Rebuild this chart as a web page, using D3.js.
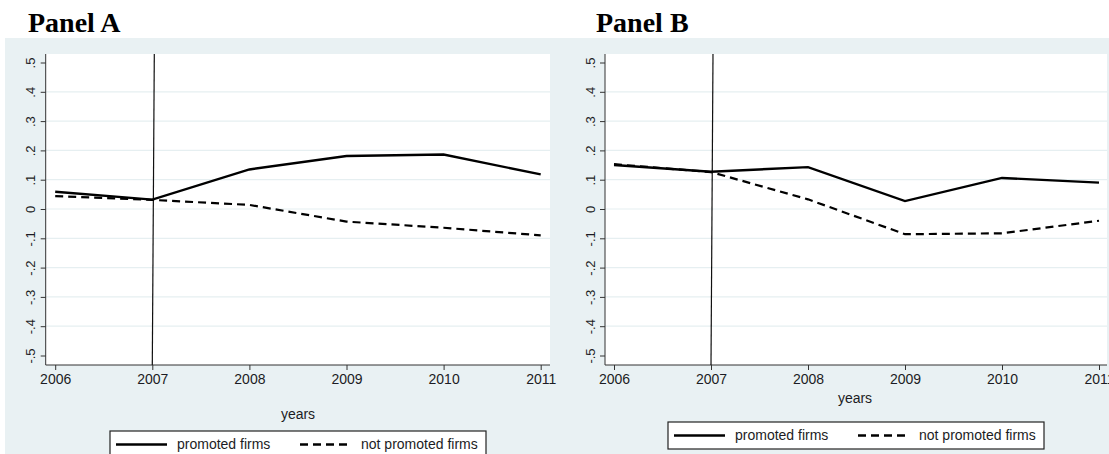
<!DOCTYPE html>
<html>
<head>
<meta charset="utf-8">
<style>
  body { margin: 0; background: #fff; }
  svg text { font-family: "Liberation Sans", Arial, sans-serif; fill: #1c1c24; }
</style>
</head>
<body>
<script src="https://cdn.jsdelivr.net/npm/d3@7"></script>
<script>
// data
var years = [2006, 2007, 2008, 2009, 2010, 2011];
var yTicks = [-0.5, -0.4, -0.3, -0.2, -0.1, 0, 0.1, 0.2, 0.3, 0.4, 0.5];
var yTickLabels = ["-.5", "-.4", "-.3", "-.2", "-.1", "0", ".1", ".2", ".3", ".4", ".5"];
var promotedA    = [0.059, 0.032, 0.135, 0.181, 0.186, 0.118];
var notPromotedA = [0.044, 0.031, 0.014, -0.043, -0.064, -0.090];
var promotedB    = [0.150, 0.127, 0.143, 0.027, 0.106, 0.090];
var notPromotedB = [0.153, 0.126, 0.033, -0.086, -0.083, -0.040];
var seriesNames = ["promoted firms", "not promoted firms"];

var W = 1109, H = 454;
var bg = "#e9f1f3";

var svg = d3.select("body").append("svg")
  .attr("width", W).attr("height", H);

svg.append("rect")
  .attr("x", 5).attr("y", 38)
  .attr("width", W - 5).attr("height", H - 38)
  .attr("fill", bg);

function panel(opt) {
  var g = svg.append("g");

  var x = d3.scaleLinear().domain([2006, 2011]).range([opt.x0, opt.x1]);
  var y = d3.scaleLinear().domain([-0.5, 0.5]).range([355.5, 62.5]);

  // title
  svg.append("text")
    .attr("x", opt.titleX).attr("y", 32)
    .style("font-family", "'Liberation Serif', 'Times New Roman', serif")
    .style("font-weight", "bold")
    .style("font-size", "28px")
    .style("fill", "#000")
    .text(opt.title);

  // plot region
  g.append("rect")
    .attr("x", opt.left).attr("y", 54)
    .attr("width", opt.right - opt.left).attr("height", 365 - 54)
    .attr("fill", "#fff");

  // grid
  g.selectAll("line.grid")
    .data(yTicks.filter(function(d) { return Math.abs(d) < 0.45; }))
    .enter().append("line")
    .attr("class", "grid")
    .attr("x1", opt.left).attr("x2", opt.right)
    .attr("y1", function(d) { return y(d); })
    .attr("y2", function(d) { return y(d); })
    .attr("stroke", "#e6eff1").attr("stroke-width", 1.2);

  // y axis
  var yAxis = d3.axisLeft(y).tickValues(yTicks)
    .tickFormat(function(d, i) { return yTickLabels[i]; })
    .tickSize(5).tickPadding(4);
  var ga = g.append("g").attr("transform", "translate(" + opt.left + ",0)").call(yAxis);
  ga.select(".domain").attr("d", "M0,54V365").attr("stroke", "#333");
  ga.selectAll(".tick line").attr("stroke", "#333");
  ga.selectAll(".tick text")
    .attr("x", null).attr("dy", null)
    .attr("text-anchor", "middle")
    .attr("transform", "translate(-15,0) rotate(-90)")
    .attr("dy", "0.35em")
    .style("font-size", "13px");

  // x axis
  var xAxis = d3.axisBottom(x).tickValues(years)
    .tickFormat(d3.format("d")).tickSize(5).tickPadding(4);
  var gx = g.append("g").attr("transform", "translate(0,365)").call(xAxis);
  gx.select(".domain").attr("d", "M" + opt.left + ",0H" + opt.right).attr("stroke", "#333");
  gx.selectAll(".tick line").attr("stroke", "#333");
  gx.selectAll(".tick text").style("font-size", "14px");

  // vertical reference line at 2007
  g.append("line")
    .attr("x1", x(2007) + 2).attr("x2", x(2007))
    .attr("y1", 54).attr("y2", 365)
    .attr("stroke", "#111").attr("stroke-width", 1.2);

  var line = d3.line()
    .x(function(d, i) { return x(years[i]); })
    .y(function(d) { return y(d); });

  g.append("path").datum(opt.notPromoted)
    .attr("d", line).attr("fill", "none")
    .attr("stroke", "#000").attr("stroke-width", 2.2)
    .attr("stroke-dasharray", "8,5");
  g.append("path").datum(opt.promoted)
    .attr("d", line).attr("fill", "none")
    .attr("stroke", "#000").attr("stroke-width", 2.4);

  // x title
  g.append("text")
    .attr("x", opt.yearsX).attr("y", opt.yearsY)
    .attr("text-anchor", "middle")
    .style("font-size", "14px")
    .text("years");

  // legend
  var lg = g.append("g").attr("transform", "translate(" + opt.legX + "," + opt.legY + ")");
  lg.append("rect").attr("x", 0).attr("y", 0)
    .attr("width", 376).attr("height", 27)
    .attr("fill", "#fff").attr("stroke", "#222").attr("stroke-width", 1.2);
  var items = lg.selectAll("g.item").data(seriesNames).enter().append("g")
    .attr("transform", function(d, i) { return "translate(" + (6 + i * 184) + ",13.5)"; });
  items.append("line")
    .attr("x1", 0).attr("x2", 51).attr("y1", 0).attr("y2", 0)
    .attr("stroke", "#000").attr("stroke-width", 2.4)
    .attr("stroke-dasharray", function(d, i) { return i ? "8,5" : null; });
  items.append("text")
    .attr("x", 61).attr("y", 0).attr("dy", "0.35em")
    .style("font-size", "14px")
    .text(function(d) { return d; });
}

panel({
  title: "Panel A", titleX: 28,
  left: 45.7, right: 550, x0: 55.2, x1: 540.7,
  promoted: promotedA, notPromoted: notPromotedA,
  yearsX: 298, yearsY: 419, legX: 110, legY: 431
});

panel({
  title: "Panel B", titleX: 596,
  left: 605, right: 1107, x0: 614, x1: 1099,
  promoted: promotedB, notPromoted: notPromotedB,
  yearsX: 855, yearsY: 403, legX: 668, legY: 422
});
</script>
</body>
</html>
